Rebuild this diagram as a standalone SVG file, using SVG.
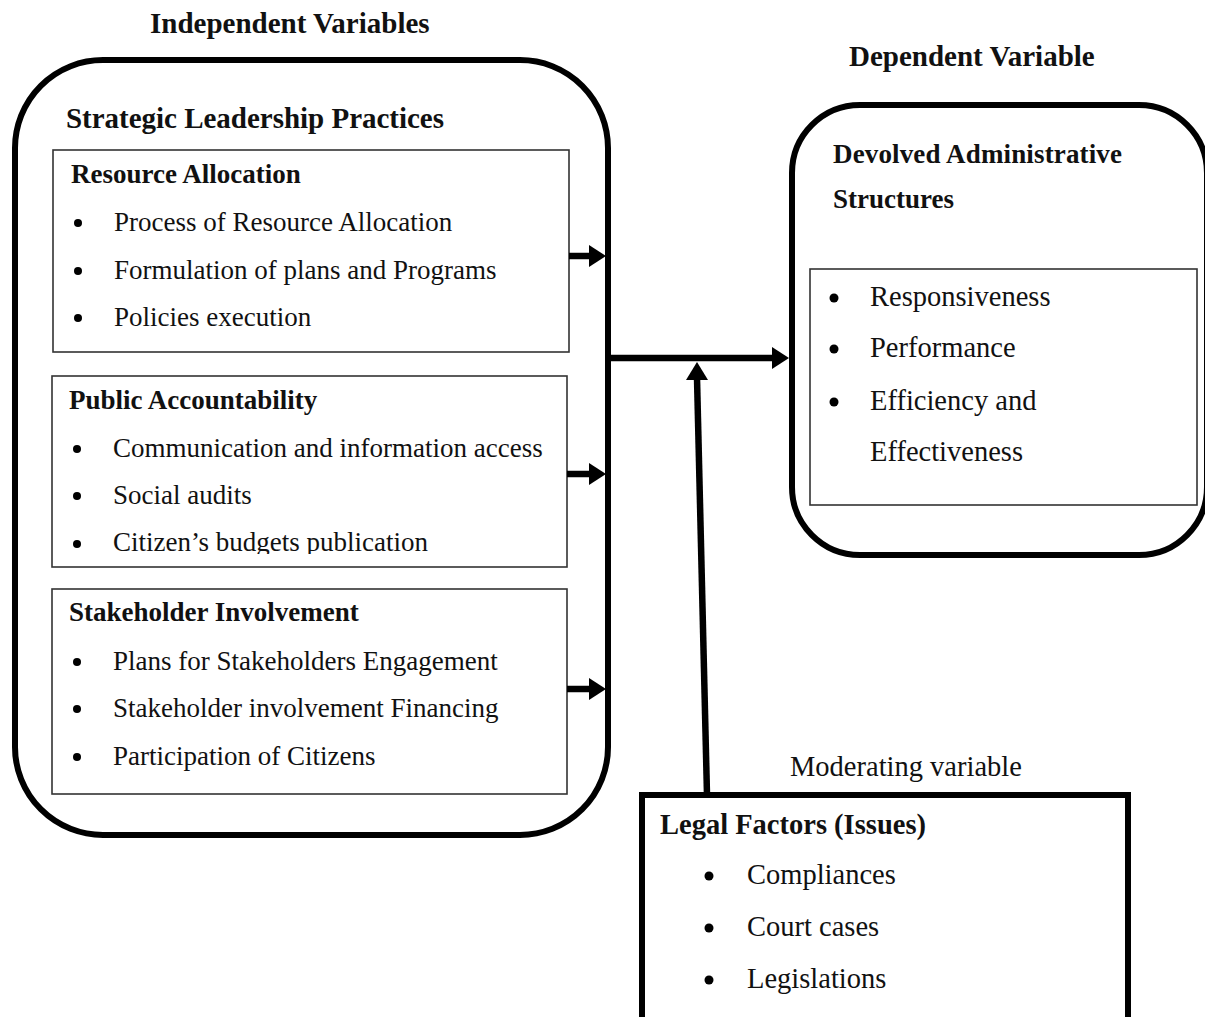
<svg xmlns="http://www.w3.org/2000/svg" width="1205" height="1017" viewBox="0 0 1205 1017">
<style>
text{font-family:"Liberation Serif","Times New Roman",serif;fill:#111}
.b{font-weight:bold}
.t{font-size:29px}
.h{font-size:27px}
.i{font-size:27px}
.r{font-size:28.5px}
.outer{fill:none;stroke:#000;stroke-width:6}
.inner{fill:none;stroke:#333;stroke-width:1.6}
.conn{stroke:#000;stroke-width:6.5;fill:none}
.head{fill:#000}
.dot{fill:#000}
</style>
<defs>
<clipPath id="cut"><rect x="0" y="0" width="1205" height="554"/></clipPath>
</defs>

<text class="b t" x="150" y="33">Independent Variables</text>
<text class="b t" x="849" y="66">Dependent Variable</text>

<g id="strategic-leadership">
<rect class="outer" x="15" y="60" width="593" height="775" rx="88" ry="88"/>
<text class="b t" x="66" y="128" textLength="378">Strategic Leadership Practices</text>
</g>

<g id="resource-allocation">
<rect class="inner" x="53" y="150" width="516" height="202"/>
<text class="b h" x="71" y="183">Resource Allocation</text>
<circle class="dot" cx="78" cy="223" r="4"/>
<text class="i" x="114" y="231">Process of Resource Allocation</text>
<circle class="dot" cx="78" cy="271" r="4"/>
<text class="i" x="114" y="279">Formulation of plans and Programs</text>
<circle class="dot" cx="78" cy="318" r="4"/>
<text class="i" x="114" y="326">Policies execution</text>
</g>

<g id="public-accountability">
<rect class="inner" x="52" y="376" width="515" height="191"/>
<text class="b h" x="69" y="409">Public Accountability</text>
<circle class="dot" cx="77" cy="449" r="4"/>
<text class="i" x="113" y="457">Communication and information access</text>
<circle class="dot" cx="77" cy="496" r="4"/>
<text class="i" x="113" y="504">Social audits</text>
<circle class="dot" cx="77" cy="544" r="4"/>
<text class="i" x="113" y="551" clip-path="url(#cut)">Citizen’s budgets publication</text>
</g>

<g id="stakeholder-involvement">
<rect class="inner" x="52" y="589" width="515" height="205"/>
<text class="b h" x="69" y="621">Stakeholder Involvement</text>
<circle class="dot" cx="77" cy="662" r="4"/>
<text class="i" x="113" y="670">Plans for Stakeholders Engagement</text>
<circle class="dot" cx="77" cy="709" r="4"/>
<text class="i" x="113" y="717">Stakeholder involvement Financing</text>
<circle class="dot" cx="77" cy="757" r="4"/>
<text class="i" x="113" y="765">Participation of Citizens</text>
</g>

<g id="devolved-structures">
<rect class="outer" x="792" y="105" width="415" height="450" rx="68" ry="68"/>
<text class="b h" x="833" y="163" textLength="289">Devolved Administrative</text>
<text class="b h" x="833" y="208">Structures</text>
<rect class="inner" x="810" y="269" width="387" height="236"/>
<circle class="dot" cx="834" cy="298" r="4.5"/>
<text class="r" x="870" y="306">Responsiveness</text>
<circle class="dot" cx="834" cy="349" r="4.5"/>
<text class="r" x="870" y="357">Performance</text>
<circle class="dot" cx="834" cy="402" r="4.5"/>
<text class="r" x="870" y="410">Efficiency and</text>
<text class="r" x="870" y="461">Effectiveness</text>
</g>

<g id="legal-factors">
<text class="r" x="790" y="776">Moderating variable</text>
<rect class="outer" x="642" y="795" width="486" height="260"/>
<text class="b r" x="660" y="834">Legal Factors (Issues)</text>
<circle class="dot" cx="709" cy="876" r="4.5"/>
<text class="r" x="747" y="884">Compliances</text>
<circle class="dot" cx="709" cy="928" r="4.5"/>
<text class="r" x="747" y="936">Court cases</text>
<circle class="dot" cx="709" cy="980" r="4.5"/>
<text class="r" x="747" y="988">Legislations</text>
</g>

<g id="connectors">
<line class="conn" x1="569" y1="256" x2="592" y2="256"/>
<polygon class="head" points="589,245 606,256 589,267"/>
<line class="conn" x1="567" y1="474" x2="592" y2="474"/>
<polygon class="head" points="589,463 606,474 589,485"/>
<line class="conn" x1="567" y1="689" x2="592" y2="689"/>
<polygon class="head" points="589,678 606,689 589,700"/>
<line class="conn" x1="608" y1="358" x2="775" y2="358"/>
<polygon class="head" points="772,347 789,358 772,369"/>
<line class="conn" x1="707" y1="795" x2="697" y2="378"/>
<polygon class="head" points="686,380 697,362 708,380"/>
</g>
</svg>
